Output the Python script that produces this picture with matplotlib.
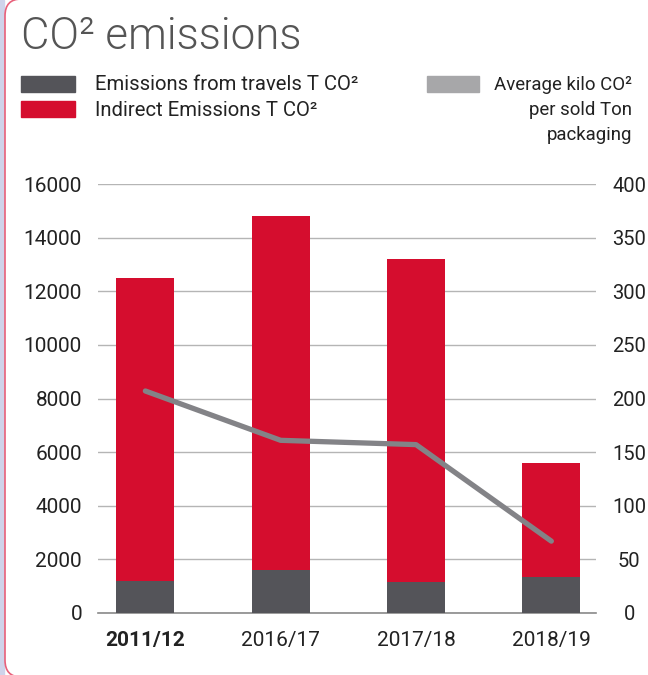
import matplotlib
matplotlib.use('Agg')
import matplotlib.pyplot as plt
from matplotlib.patches import Rectangle, FancyBboxPatch

# data
seasons = ['2011/12', '2016/17', '2017/18', '2018/19']
travel = [1200, 1600, 1150, 1350]           # T CO2
total = [12500, 14800, 13200, 5600]         # bar tops (travel + indirect)
indirect = [t - d for t, d in zip(total, travel)]
avg_kilo = [207, 161, 157, 67]              # kilo CO2 per sold ton

RED = '#d50d2e'
DARK = '#545459'
LEGEND_GRAY = '#a7a7a9'
LINE_GRAY = '#838387'
TXT = '#222222'

plt.rcParams['font.family'] = ['Roboto', 'DejaVu Sans']

W, H = 648, 675
fig = plt.figure(figsize=(W / 100, H / 100), dpi=100)

def fx(px):
    return px / W

def fy(py):
    return 1 - py / H

# left strip + rounded card border (top/bottom edges just outside the image)
fig.patches.append(Rectangle((0, 0), fx(4), 1, transform=fig.transFigure,
                             color='#cfd3ea', zorder=0))
fig.patches.append(FancyBboxPatch((fx(5), fy(677)), 1.2, fy(-1) - fy(677),
                                  boxstyle='round,pad=0,rounding_size=0.025',
                                  transform=fig.transFigure, facecolor='white',
                                  edgecolor='#e8607a', linewidth=1.2, zorder=0.5))

ax = fig.add_axes([fx(98), fy(613), fx(596) - fx(98), fy(184) - fy(613)])
ax.set_zorder(2)
ax.patch.set_visible(False)

x = list(range(len(seasons)))
ax.bar(x, travel, width=0.43, color=DARK, zorder=3)
ax.bar(x, indirect, bottom=travel, width=0.43, color=RED, zorder=3)

ax.set_ylim(0, 16000)
ax.set_xlim(-0.35, 3.33)
ax.set_yticks(range(0, 16001, 2000))
ax.grid(axis='y', color='#b5b5b5', linewidth=1.0, zorder=0)
ax.set_axisbelow(True)
for s in ['top', 'right', 'left']:
    ax.spines[s].set_visible(False)
ax.spines['bottom'].set_color('#8a8a8a')
ax.spines['bottom'].set_linewidth(1.2)
ax.tick_params(axis='y', length=0, pad=11.5, labelsize=15, labelcolor=TXT)
ax.tick_params(axis='x', length=0, pad=13, labelsize=15, labelcolor=TXT)
ax.set_xticks(x)
ax.set_xticklabels(seasons)
ax.get_xticklabels()[0].set_fontweight('bold')

ax2 = ax.twinx()
ax2.set_ylim(0, 400)
ax2.set_yticks(range(0, 401, 50))
for s in ['top', 'right', 'left', 'bottom']:
    ax2.spines[s].set_visible(False)
ax2.tick_params(axis='y', length=0, pad=24, labelsize=14.5, labelcolor=TXT)
for lab in ax2.get_yticklabels():
    lab.set_horizontalalignment('center')
ax2.plot(x, avg_kilo, color=LINE_GRAY, linewidth=3.8, solid_capstyle='round',
         solid_joinstyle='round', zorder=5)

# title (weight 300 = Roboto Light)
fig.text(fx(21), fy(37), 'CO² emissions', fontsize=31.5, fontweight=300,
         color='#555555', va='center', ha='left')

# legend
fig.patches.append(Rectangle((fx(21), fy(92)), fx(54), fy(76) - fy(92),
                             transform=fig.transFigure, color=DARK))
fig.patches.append(Rectangle((fx(21), fy(117)), fx(54), fy(101) - fy(117),
                             transform=fig.transFigure, color=RED))
fig.patches.append(Rectangle((fx(427), fy(92)), fx(52), fy(76) - fy(92),
                             transform=fig.transFigure, color=LEGEND_GRAY))
fig.text(fx(95), fy(85), 'Emissions from travels T CO²', fontsize=14.6,
         color=TXT, va='center', ha='left')
fig.text(fx(95), fy(110), 'Indirect Emissions T CO²', fontsize=14.6,
         color=TXT, va='center', ha='left')
fig.text(fx(632), fy(85), 'Average kilo CO²', fontsize=13.4,
         color=TXT, va='center', ha='right')
fig.text(fx(632), fy(110), 'per sold Ton', fontsize=13.4,
         color=TXT, va='center', ha='right')
fig.text(fx(632), fy(135), 'packaging', fontsize=13.4,
         color=TXT, va='center', ha='right')

fig.savefig('out.png', dpi=100)
